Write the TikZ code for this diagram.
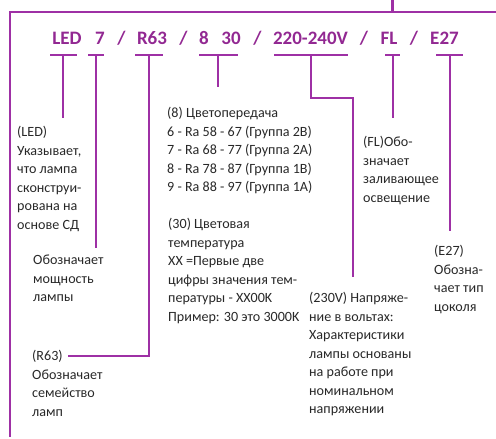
\documentclass[tikz,border=0pt]{standalone}
\usepackage{fontspec}
\setmainfont{Carlito}
\definecolor{codepurple}{RGB}{146,40,146}
\definecolor{linepurple}{RGB}{158,48,165}
\definecolor{txtgray}{RGB}{40,40,40}
\begin{document}
\begin{tikzpicture}[x=1pt,y=-1pt,
  code/.style={font=\fontsize{19}{22}\selectfont\bfseries, text=codepurple, inner sep=0pt, anchor=center},
  desc/.style={font=\fontsize{14.1}{18.5}\selectfont, text=txtgray, inner sep=0pt, anchor=north west, align=left},
  conn/.style={draw=linepurple, line width=1.3pt},
  frame/.style={draw=linepurple, line width=1.4pt}]
\useasboundingbox (0,0) rectangle (496,439);
% frame
\coordinate (fTR) at (496,12);
\coordinate (fTL) at (10,12);
\coordinate (fBL) at (10,437);
\coordinate (tabT) at (392,0);
\coordinate (tabB) at (392,12);
\draw[frame] (fTR) -- (fTL) -- (fBL);
\draw[draw=linepurple, line width=3pt] (tabT) -- (tabB);
% code text
\node[code] (cLED) at (67,38) {LED};
\node[code] (c7) at (100,38) {7};
\node[code] (s1) at (121.5,38) {/};
\node[code] (cR) at (152,38) {R63};
\node[code] (s2) at (183.5,38) {/};
\node[code] (c8) at (204,38) {8};
\node[code] (c30) at (231,38) {30};
\node[code] (s3) at (257.5,38) {/};
\node[code] (cV) at (310.5,38) {220-240V};
\node[code] (s4) at (364,38) {/};
\node[code] (cFL) at (389,38) {FL};
\node[code] (s5) at (414,38) {/};
\node[code] (cE) at (444.5,38) {E27};
% descriptions
\node[desc] (dLED) at (17,123.5) {\strut(LED)\\Указывает,\\что лампа\\сконструи-\\рована на\\основе СД};
\node[desc] (dPow) at (33,251.5) {\strut Обозначает\\мощность\\лампы};
\node[desc] (dR) at (32,347.5) {\strut(R63)\\Обозначает\\семейство\\ламп};
\node[desc] (dCRI) at (167,104.5) {\strut(8) Цветопередача\\6 - Ra 58 - 67 (Группа 2В)\\7 - Ra 68 - 77 (Группа 2А)\\8 - Ra 78 - 87 (Группа 1В)\\9 - Ra 88 - 97 (Группа 1А)};
\node[desc] (dCCT) at (168,215.5) {\strut(30) Цветовая\\температура\\XX =Первые две\\цифры значения тем-\\пературы - XX00K\\Пример: 30 это 3000K};
\node[desc] (dV) at (309,289.5) {\strut(230V) Напряже-\\ние в вольтах:\\Характеристики\\лампы основаны\\на работе при\\номинальном\\напряжении};
\node[desc] (dFL) at (363,133.5) {\strut(FL)Обо-\\значает\\заливающее\\освещение};
\node[desc] (dE) at (434,242.5) {\strut(E27)\\Обозна-\\чает тип\\цоколя};
% connector coordinates
\coordinate (uLEDa) at (50,55); \coordinate (uLEDb) at (77,55); \coordinate (uLEDm) at (63,55); \coordinate (eLED) at (63,118);
\coordinate (u7a) at (88,55); \coordinate (u7b) at (104,55); \coordinate (u7m) at (96,55); \coordinate (e7) at (96,248);
\coordinate (uRa) at (135,55); \coordinate (uRb) at (163,55); \coordinate (uRm) at (149,55); \coordinate (kR) at (149,356); \coordinate (eR) at (68,356);
\coordinate (u8a) at (199,55); \coordinate (u8b) at (238,55); \coordinate (u8m) at (218,55); \coordinate (e8) at (218,87);
\coordinate (uVa) at (274,55); \coordinate (uVb) at (348,55); \coordinate (uVm) at (311,55); \coordinate (kV1) at (311,98); \coordinate (kV2) at (353,98); \coordinate (eV) at (353,277);
\coordinate (uFLa) at (385,55); \coordinate (uFLb) at (400,55); \coordinate (uFLm) at (393,55); \coordinate (eFL) at (393,118);
\coordinate (uEa) at (436,55); \coordinate (uEb) at (463,55); \coordinate (uEm) at (450,55); \coordinate (eE) at (450,231);
% connectors
\draw[conn] (uLEDa) -- (uLEDb); \draw[conn] (uLEDm) -- (eLED);
\draw[conn] (u7a) -- (u7b); \draw[conn] (u7m) -- (e7);
\draw[conn] (uRa) -- (uRb); \draw[conn] (uRm) -- (kR) -- (eR);
\draw[conn] (u8a) -- (u8b); \draw[conn] (u8m) -- (e8);
\draw[conn] (uVa) -- (uVb); \draw[conn] (uVm) -- (kV1) -- (kV2) -- (eV);
\draw[conn] (uFLa) -- (uFLb); \draw[conn] (uFLm) -- (eFL);
\draw[conn] (uEa) -- (uEb); \draw[conn] (uEm) -- (eE);
\end{tikzpicture}
\end{document}
